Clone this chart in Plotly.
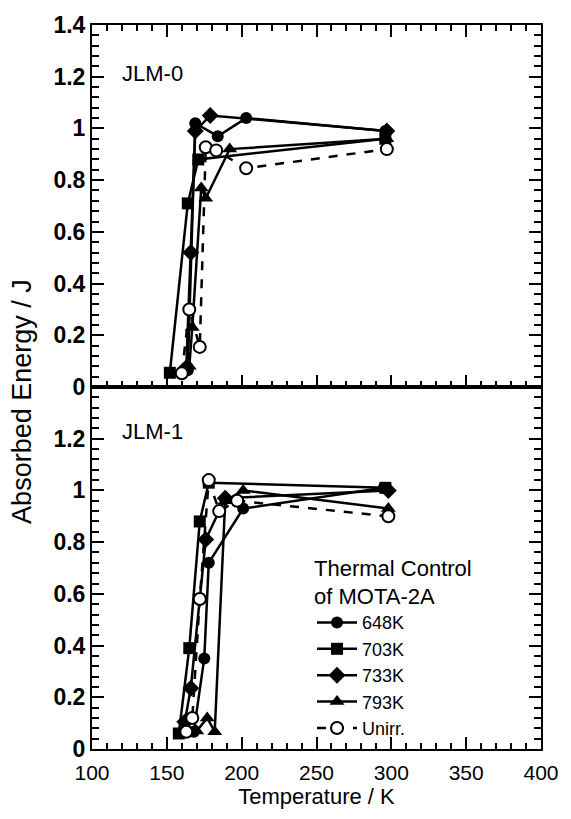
import plotly.graph_objects as go
from plotly.subplots import make_subplots

# ---------------- data (JLM-0, top panel) ----------------
t0_648 = [164, 169, 184, 203, 296]
e0_648 = [0.065, 1.02, 0.97, 1.04, 0.99]
t0_703 = [152, 164, 171, 296]
e0_703 = [0.055, 0.71, 0.88, 0.96]
t0_733 = [163, 166, 169, 179, 297]
e0_733 = [0.075, 0.52, 0.99, 1.05, 0.99]
t0_793 = [165, 167, 173, 176, 192, 297]
e0_793 = [0.08, 0.23, 0.77, 0.73, 0.92, 0.96]
t0_un = [160, 165, 172, 176, 183, 203, 297]
e0_un = [0.053, 0.30, 0.155, 0.927, 0.915, 0.846, 0.92]

# ---------------- data (JLM-1, bottom panel) ----------------
t1_648 = [163, 168, 175, 178, 201, 295]
e1_648 = [0.07, 0.067, 0.35, 0.72, 0.93, 1.01]
t1_703 = [158, 165, 172, 178, 296]
e1_703 = [0.06, 0.39, 0.88, 1.03, 1.01]
t1_733 = [162, 166, 176, 189, 298]
e1_733 = [0.105, 0.235, 0.81, 0.97, 1.0]
t1_793 = [170, 177, 182, 189, 201, 298]
e1_793 = [0.07, 0.12, 0.067, 0.96, 1.0, 0.93]
t1_un = [163, 167, 172, 178, 185, 197, 298]
e1_un = [0.067, 0.12, 0.58, 1.04, 0.92, 0.96, 0.90]

series_names = ["648K", "703K", "733K", "793K", "Unirr."]
symbols = ["circle", "square", "diamond", "triangle-up", "circle-open"]
marker_sizes = [12, 12, 13, 13, 12]
y_tickvals_top = [0, 0.2, 0.4, 0.6, 0.8, 1.0, 1.2, 1.4]
y_ticktext_top = ["0", "0.2", "0.4", "0.6", "0.8", "1", "1.2", "1.4"]
y_tickvals_bot = [0, 0.2, 0.4, 0.6, 0.8, 1.0, 1.2]
y_ticktext_bot = ["0", "0.2", "0.4", "0.6", "0.8", "1", "1.2"]
x_tickvals = [100, 150, 200, 250, 300, 350, 400]

FONT = "Liberation Sans, Arial, Helvetica, sans-serif"
TICKC = "black"

fig = make_subplots(rows=2, cols=1, shared_xaxes=True, vertical_spacing=0)

top = [(t0_648, e0_648), (t0_703, e0_703), (t0_733, e0_733), (t0_793, e0_793), (t0_un, e0_un)]
bot = [(t1_648, e1_648), (t1_703, e1_703), (t1_733, e1_733), (t1_793, e1_793), (t1_un, e1_un)]

for row, data in ((1, top), (2, bot)):
    for i, (t, e) in enumerate(data):
        is_open = symbols[i] == "circle-open"
        fig.add_trace(
            go.Scatter(
                x=t, y=e, mode="lines+markers", name=series_names[i],
                showlegend=(row == 2),
                line=dict(color="black", width=2.5, dash="dash" if is_open else "solid"),
                marker=dict(
                    symbol="circle" if is_open else symbols[i],
                    size=marker_sizes[i],
                    color="white" if is_open else "black",
                    line=dict(color="black", width=2 if is_open else 0),
                ),
            ),
            row=row, col=1,
        )

line_common = dict(showline=True, linecolor="black", linewidth=2, showgrid=False, zeroline=False)

fig.update_xaxes(
    range=[100, 400], tickmode="array", tickvals=x_tickvals,
    ticks="inside", ticklen=12, tickwidth=2, tickcolor=TICKC,
    minor=dict(ticks="inside", dtick=10, ticklen=6, tickcolor=TICKC, tickwidth=1.5, showgrid=False),
    ticklabelstandoff=4,
    tickfont=dict(family=FONT, size=21, color="black"),
    **line_common,
)
fig.update_xaxes(mirror="ticks", row=1, col=1)
fig.update_xaxes(mirror=True, row=2, col=1,
                 title=dict(text="Temperature / K", font=dict(family=FONT, size=22, color="black"), standoff=4))

fig.update_yaxes(
    range=[0, 1.4], mirror="ticks", tickmode="array",
    ticks="inside", ticklen=12, tickwidth=2, tickcolor=TICKC,
    minor=dict(ticks="inside", dtick=0.04, ticklen=7, tickcolor=TICKC, tickwidth=1.5, showgrid=False),
    tickfont=dict(family=FONT, size=23, color="black", weight="bold"),
    **line_common,
)
fig.update_yaxes(tickvals=y_tickvals_top, ticktext=y_ticktext_top, row=1, col=1)
fig.update_yaxes(tickvals=y_tickvals_bot, ticktext=y_ticktext_bot, row=2, col=1)

fig.add_annotation(text="JLM-0", xref="x domain", yref="y domain", x=0.062, y=0.865,
                   xanchor="left", yanchor="middle", showarrow=False,
                   font=dict(family=FONT, size=22, color="black"))
fig.add_annotation(text="JLM-1", xref="x2 domain", yref="y2 domain", x=0.062, y=0.876,
                   xanchor="left", yanchor="middle", showarrow=False,
                   font=dict(family=FONT, size=22, color="black"))

fig.add_annotation(text="Absorbed Energy / J", xref="paper", yref="paper",
                   x=-0.155, y=0.48, textangle=-90, showarrow=False,
                   xanchor="center", yanchor="middle",
                   font=dict(family="Liberation Sans Narrow, Liberation Sans, Arial", size=27, color="black"))

fig.update_layout(
    width=571, height=819,
    margin=dict(l=92, r=27, t=23, b=70),
    paper_bgcolor="white", plot_bgcolor="white",
    legend=dict(
        title=dict(text="Thermal Control<br>of MOTA-2A", font=dict(family=FONT, size=22, color="black")),
        font=dict(family=FONT, size=18, color="black"),
        x=0.49, y=0.279, xanchor="left", yanchor="top",
        bgcolor="rgba(0,0,0,0)", tracegroupgap=0, itemwidth=40,
    ),
)

fig.write_html(
    "out.html",
    config={"displayModeBar": False},
    post_script="document.body.style.margin='0';document.body.style.overflow='hidden';",
)
